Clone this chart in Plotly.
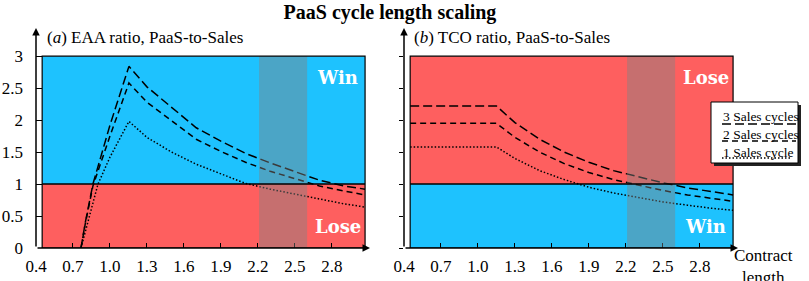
import plotly.graph_objects as go

# ---- data ----
series_names = ["3 Sales cycles", "2 Sales cycles", "1 Sales cycle"]

eaa_x = [0.765, 0.80, 0.862, 1.0, 1.154, 1.3, 1.5, 1.7, 1.9, 2.1, 2.3, 2.5, 2.7, 2.9, 3.07]
eaa_3 = [0.0, 0.40, 1.00, 1.92, 2.84, 2.52, 2.20, 1.88, 1.67, 1.48, 1.33, 1.19, 1.06, 0.97, 0.92]
eaa_2 = [0.0, 0.38, 0.97, 1.75, 2.58, 2.28, 1.99, 1.70, 1.51, 1.34, 1.20, 1.08, 0.97, 0.89, 0.83]
eaa_1x = [0.765, 0.82, 0.903, 1.0, 1.154, 1.3, 1.5, 1.7, 1.9, 2.1, 2.3, 2.5, 2.7, 2.9, 3.07]
eaa_1 = [0.0, 0.40, 1.00, 1.42, 1.98, 1.73, 1.50, 1.31, 1.16, 1.01, 0.92, 0.84, 0.76, 0.69, 0.64]

tco_x = [0.45, 1.15, 1.3, 1.5, 1.7, 1.9, 2.1, 2.3, 2.5, 2.7, 2.9, 3.07]
tco_3 = [2.22, 2.22, 1.96, 1.70, 1.50, 1.34, 1.21, 1.11, 1.02, 0.94, 0.88, 0.83]
tco_2 = [1.95, 1.95, 1.73, 1.50, 1.32, 1.18, 1.07, 0.98, 0.90, 0.83, 0.78, 0.73]
tco_1 = [1.58, 1.58, 1.40, 1.21, 1.07, 0.95, 0.86, 0.79, 0.72, 0.67, 0.62, 0.59]

x_ticks = [0.4, 0.7, 1.0, 1.3, 1.6, 1.9, 2.2, 2.5, 2.8]
y_ticks = [0, 0.5, 1, 1.5, 2, 2.5, 3]
y_tick_text = ["0", "0.5", "1", "1.5", "2", "2.5", "3"]
band = [2.21, 2.6]
region_x = [0.45, 3.07]

BLUE = "#1EC2FE"
RED = "#FE5F5F"
SERIF = "Liberation Serif"
dashes = ["9px,4px", "6px,4px", "1.5px,2px"]

fig = go.Figure()

def add_lines(xs_list, ys_list, xa, ya):
    for xs, ys, d, n in zip(xs_list, ys_list, dashes, series_names):
        fig.add_trace(go.Scatter(x=xs, y=ys, mode="lines", name=n, showlegend=False,
                                 line=dict(color="black", width=1.5, dash=d),
                                 xaxis=xa, yaxis=ya, hoverinfo="skip"))

add_lines([eaa_x, eaa_x, eaa_1x], [eaa_3, eaa_2, eaa_1], "x", "y")
add_lines([tco_x, tco_x, tco_x], [tco_3, tco_2, tco_1], "x2", "y2")

shapes = []
for xr, yr, top, bot in [("x", "y", BLUE, RED), ("x2", "y2", RED, BLUE)]:
    shapes.append(dict(type="rect", xref=xr, yref=yr, x0=region_x[0], x1=region_x[1], y0=1, y1=3,
                       fillcolor=top, line=dict(width=0), layer="below"))
    shapes.append(dict(type="rect", xref=xr, yref=yr, x0=region_x[0], x1=region_x[1], y0=0, y1=1,
                       fillcolor=bot, line=dict(width=0), layer="below"))
    shapes.append(dict(type="rect", xref=xr, yref=yr, x0=band[0], x1=band[1], y0=0, y1=3,
                       fillcolor="rgba(131,131,131,0.45)", line=dict(width=0), layer="above"))
    shapes.append(dict(type="rect", xref=xr, yref=yr, x0=region_x[0], x1=region_x[1], y0=0, y1=3,
                       fillcolor="rgba(0,0,0,0)", line=dict(color="black", width=1.2), layer="above"))
    shapes.append(dict(type="line", xref=xr, yref=yr, x0=region_x[0], x1=region_x[1], y0=1, y1=1,
                       line=dict(color="black", width=1.5), layer="above"))

# paper coords helpers: plot area px 36..738 horizontally, 28..248 vertically
def px(xp):
    return (xp - 36) / 702.0

def py(yp):
    return (248 - yp) / 220.0

shapes.append(dict(type="rect", xref="paper", yref="paper", x0=px(714), x1=px(801), y0=py(166), y1=py(105),
                   fillcolor="#222", line=dict(width=0), layer="above"))
shapes.append(dict(type="rect", xref="paper", yref="paper", x0=px(711), x1=px(798), y0=py(163), y1=py(102),
                   fillcolor="white", line=dict(color="black", width=1), layer="above"))
leg_text_y = [116, 134, 152]
leg_line_y = [124, 141, 158]
leg_line_x = [[722, 796], [722, 796], [722, 792]]
for i in range(3):
    shapes.append(dict(type="line", xref="paper", yref="paper",
                       x0=px(leg_line_x[i][0]), x1=px(leg_line_x[i][1]),
                       y0=py(leg_line_y[i]), y1=py(leg_line_y[i]),
                       line=dict(color="black", width=1.5, dash=dashes[i]), layer="above"))

annotations = []
for i, n in enumerate(series_names):
    annotations.append(dict(xref="paper", yref="paper", x=px(721), y=py(leg_text_y[i]), text=n,
                            showarrow=False, xanchor="left", yanchor="middle",
                            font=dict(family=SERIF, size=13.5, color="black")))

# axis arrows
for xr, yr in [("x", "y"), ("x2", "y2")]:
    annotations.append(dict(xref=xr, yref=yr, axref=xr, ayref=yr, x=3.11, y=0, ax=0.4, ay=0,
                            showarrow=True, arrowhead=2, arrowsize=1, arrowwidth=1.5,
                            arrowcolor="black", text=""))
    annotations.append(dict(xref=xr, yref=yr, axref=xr, ayref=yr, x=0.4, y=3.44, ax=0.4, ay=0,
                            showarrow=True, arrowhead=2, arrowsize=1, arrowwidth=1.5,
                            arrowcolor="black", text=""))

win_font = dict(family="DejaVu Serif", size=18, color="white")
for xr, yr, top_lbl, bot_lbl in [("x", "y", "Win", "Lose"), ("x2", "y2", "Lose", "Win")]:
    annotations.append(dict(xref=xr, yref=yr, x=2.85, y=2.67, text="<b>%s</b>" % top_lbl,
                            showarrow=False, font=win_font))
    annotations.append(dict(xref=xr, yref=yr, x=2.85, y=0.33, text="<b>%s</b>" % bot_lbl,
                            showarrow=False, font=win_font))

annotations.append(dict(xref="paper", yref="paper", x=px(45), y=py(38), xanchor="left", yanchor="middle",
                        text="(<i>a</i>) EAA ratio, PaaS-to-Sales", showarrow=False,
                        font=dict(family=SERIF, size=17, color="black")))
annotations.append(dict(xref="paper", yref="paper", x=px(412), y=py(38), xanchor="left", yanchor="middle",
                        text="(<i>b</i>) TCO ratio, PaaS-to-Sales", showarrow=False,
                        font=dict(family=SERIF, size=17, color="black")))
annotations.append(dict(xref="paper", yref="paper", x=px(763), y=py(266), xanchor="center", yanchor="middle",
                        text="Contract<br>length", showarrow=False,
                        font=dict(family=SERIF, size=17, color="black")))

axis_common = dict(range=[0.4, 3.11], tickvals=x_ticks, ticktext=["%.1f" % v for v in x_ticks],
                   ticks="inside", ticklen=5, tickcolor="black", tickwidth=1, showline=False,
                   showgrid=False, zeroline=False, ticklabelstandoff=6, automargin=False,
                   tickfont=dict(family=SERIF, size=17, color="black"))

fig.update_layout(
    width=809, height=281,
    margin=dict(l=36, r=71, t=28, b=33, autoexpand=False),
    paper_bgcolor="white", plot_bgcolor="white",
    title=dict(text="<b>PaaS cycle length scaling</b>", x=390 / 809, xanchor="center",
               y=1 - 12 / 281, yanchor="middle", font=dict(family=SERIF, size=20, color="black")),
    xaxis=dict(domain=[0, 334 / 702], anchor="y", **axis_common),
    xaxis2=dict(domain=[368 / 702, 1], anchor="y2", **axis_common),
    yaxis=dict(range=[0, 3.44], tickvals=y_ticks, ticktext=y_tick_text, ticks="inside", ticklen=6,
               tickcolor="black", showgrid=False, zeroline=False, showline=False, anchor="x",
               automargin=False, ticklabelstandoff=12,
               tickfont=dict(family=SERIF, size=17, color="black")),
    yaxis2=dict(range=[0, 3.44], tickvals=y_ticks, ticks="outside", ticklen=4, tickcolor="black",
                automargin=False, showticklabels=False, showgrid=False, zeroline=False,
                showline=False, anchor="x2"),
    shapes=shapes,
    annotations=annotations,
)

fig.write_html("out.html", config={"displayModeBar": False},
               post_script="document.body.style.margin='0';")
